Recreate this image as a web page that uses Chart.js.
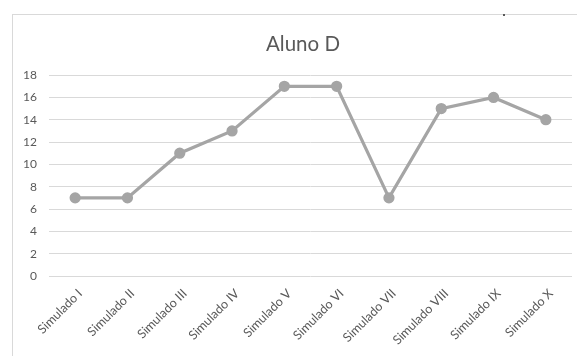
<!DOCTYPE html>
<html>
<head>
<meta charset="utf-8">
<script src="https://cdn.jsdelivr.net/npm/chart.js@4"></script>
<style>
  html, body { margin: 0; padding: 0; background: #fff; overflow: hidden; }
  #frame { position: absolute; left: 12px; top: 14px; width: 700px; height: 500px; border: 1px solid #d9d9d9; box-sizing: border-box; }
  #dot { position: absolute; left: 503px; top: 14px; width: 2px; height: 2px; background: #595959; }
  #wrap { position: absolute; left: 0; top: 0; width: 577px; height: 356px; overflow: hidden; }
</style>
</head>
<body>
<div id="frame"></div>
<div id="dot"></div>
<div id="wrap"><canvas id="c" width="600" height="356"></canvas></div>
<script>
const chartTitle = "Aluno D";
const categories = ["Simulado I", "Simulado II", "Simulado III", "Simulado IV", "Simulado V", "Simulado VI", "Simulado VII", "Simulado VIII", "Simulado IX", "Simulado X"];
const scores = [7, 7, 11, 13, 17, 17, 7, 15, 16, 14];
const yMin = 0, yMax = 18, yStep = 2;

const textColor = "#595959";
const fontFamily = "Lato, 'Open Sans', sans-serif";

new Chart(document.getElementById("c"), {
  type: "line",
  data: {
    labels: categories,
    datasets: [{
      label: chartTitle,
      data: scores,
      borderColor: "#a5a5a5",
      backgroundColor: "#a5a5a5",
      borderWidth: 3.25,
      pointRadius: 4,
      pointHoverRadius: 4,
      pointBackgroundColor: "#a5a5a5",
      pointBorderColor: "#a5a5a5",
      tension: 0,
      fill: false
    }]
  },
  options: {
    responsive: false,
    animation: false,
    devicePixelRatio: 1,
    layout: { padding: { left: 12, right: 6, top: 15, bottom: 0 } },
    plugins: {
      legend: { display: false },
      tooltip: { enabled: false },
      title: {
        display: true,
        text: chartTitle,
        color: textColor,
        font: { family: fontFamily, size: 20.5, weight: "normal" },
        padding: { top: 17, bottom: 18.5 }
      }
    },
    scales: {
      x: {
        offset: true,
        grid: { display: false, drawTicks: false },
        border: { display: false },
        ticks: {
          color: textColor,
          font: { family: fontFamily, size: 12.5 },
          minRotation: 45,
          maxRotation: 45,
          padding: 10,
          labelOffset: 5,
          autoSkip: false
        },
        afterFit: (s) => { s.height = 80; }
      },
      y: {
        min: yMin,
        max: yMax,
        grid: { color: "#d9d9d9", lineWidth: 1, drawTicks: false },
        border: { display: false },
        ticks: {
          stepSize: yStep,
          color: textColor,
          font: { family: fontFamily, size: 12 },
          padding: 12
        },
        afterFit: (s) => { s.width = 37; }
      },
      yPad: {
        position: "right",
        display: true,
        grid: { display: false, drawTicks: false },
        border: { display: false },
        ticks: { display: false },
        afterFit: (s) => { s.width = 22; }
      }
    }
  }
});
</script>
</body>
</html>
